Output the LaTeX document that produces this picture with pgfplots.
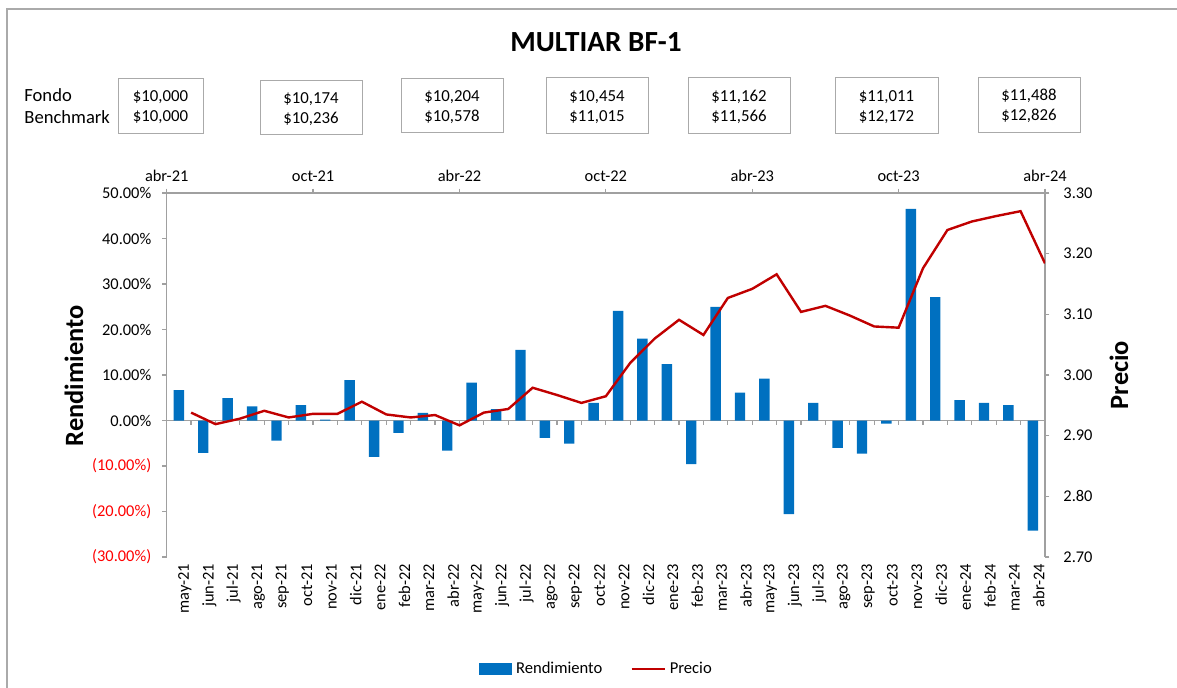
\documentclass[border=0pt]{standalone}
\usepackage{fontspec}
\setmainfont{Carlito}
\usepackage{pgfplots}
\usepackage{pgfplotstable}
\pgfplotsset{compat=1.18}
\definecolor{barblue}{HTML}{0070C0}
\definecolor{linered}{HTML}{C00000}
\definecolor{negred}{HTML}{FF0000}
\definecolor{axgray}{RGB}{160,160,160}
\definecolor{boxgray}{RGB}{170,170,170}
\newcommand{\tickfont}{\fontsize{8.2}{10}\selectfont}
\newcommand{\boxfont}{\fontsize{8.4}{10}\selectfont}

% monthly return (%), one bar per month
\pgfplotstableread{
x r
0 6.7
1 -7.1
2 4.9
3 3.1
4 -4.4
5 3.4
6 0.2
7 8.9
8 -8.0
9 -2.7
10 1.7
11 -6.6
12 8.3
13 2.5
14 15.5
15 -3.8
16 -5.1
17 3.9
18 24.1
19 18.0
20 12.4
21 -9.6
22 25.0
23 6.1
24 9.2
25 -20.6
26 3.9
27 -6.0
28 -7.3
29 -0.7
30 46.5
31 27.1
32 4.5
33 3.9
34 3.4
35 -24.2
}\rendtable

% price, at month ends
\pgfplotstableread{
x p
0.5 2.938
1.5 2.919
2.5 2.928
3.5 2.941
4.5 2.930
5.5 2.936
6.5 2.936
7.5 2.956
8.5 2.935
9.5 2.930
10.5 2.934
11.5 2.917
12.5 2.938
13.5 2.944
14.5 2.979
15.5 2.967
16.5 2.954
17.5 2.965
18.5 3.020
19.5 3.060
20.5 3.091
21.5 3.066
22.5 3.127
23.5 3.142
24.5 3.166
25.5 3.104
26.5 3.114
27.5 3.098
28.5 3.080
29.5 3.078
30.5 3.176
31.5 3.239
32.5 3.253
33.5 3.262
34.5 3.270
35.5 3.184
}\preciotable

\newcommand{\valbox}[6]{%
  \draw[boxgray, line width=0.5pt] (#1,#2) rectangle (#3,#4);
  \node[anchor=base, inner sep=0, font=\boxfont] at ({(#1+#3)/2},{(#2+#4)/2-4.6}) {\$#5};
  \node[anchor=base, inner sep=0, font=\boxfont] at ({(#1+#3)/2},{(#2+#4)/2+15.4}) {\$#6};
}

\pgfplotsset{
  common/.style={
    scale only axis, width=439.15pt, height=182pt,
    at={(83.35pt,-278.5pt)}, anchor=south west,
    xmin=-0.5, xmax=35.5,
    axis line style={axgray, line width=0.6pt},
    tick style={axgray, line width=0.6pt},
    tick align=outside, major tick length=2.2pt,
    ticklabel style={font=\tickfont, text=black},
  }
}

\begin{document}
\begin{tikzpicture}
\begin{scope}[x=0.5pt, y=-0.5pt]
  \path[use as bounding box] (0,0) rectangle (1177,688);
  \draw[boxgray, line width=0.6pt] (7,700) -- (7,9) -- (1190,9);
  \node[anchor=base, inner sep=0, font=\bfseries\fontsize{14.6}{17}\selectfont] at (596,51.7) {MULTIAR BF-1};
  \node[anchor=base west, inner sep=0, font=\fontsize{9.3}{11}\selectfont] at (24,102) {Fondo};
  \node[anchor=base west, inner sep=0, font=\fontsize{9.3}{11}\selectfont] at (24,124) {Benchmark};
  \valbox{118}{79}{203}{134}{10,000}{10,000}
  \valbox{260}{81}{362}{135}{10,174}{10,236}
  \valbox{401}{79}{503}{133}{10,204}{10,578}
  \valbox{546}{78}{648}{134}{10,454}{11,015}
  \valbox{688}{78}{790}{134}{11,162}{11,566}
  \valbox{835}{78}{938}{134}{11,011}{12,172}
  \valbox{978}{78}{1080}{133}{11,488}{12,826}
  \node[rotate=90, font=\bfseries\fontsize{13.2}{15}\selectfont] at (74,376) {Rendimiento};
  \node[rotate=90, font=\bfseries\fontsize{13.2}{15}\selectfont] at (1119,375) {Precio};
\end{scope}

% bars, left axis, zero line
\begin{axis}[common,
  ymin=-30, ymax=50,
  axis x line*=middle, axis y line*=left,
  xtick={-0.5,0.5,...,35.5}, xticklabels={},
  ytick={-30,-20,-10,0,10,20,30,40,50},
  yticklabels={{\color{negred}(30.00\%)},{\color{negred}(20.00\%)},{\color{negred}(10.00\%)},
    0.00\%,10.00\%,20.00\%,30.00\%,40.00\%,50.00\%},
  yticklabel style={xshift=-2pt},
  ybar, bar width=5.2pt,
]
\addplot[fill=barblue, draw=none] table[x=x, y=r] {\rendtable};
\end{axis}

% month labels below the plot
\begin{axis}[common,
  ymin=-30, ymax=50,
  axis x line*=bottom, hide y axis,
  x axis line style={draw=none},
  xtick={0,1,...,35}, major tick length=0pt,
  xticklabels={may-21,jun-21,jul-21,ago-21,sep-21,oct-21,nov-21,dic-21,
    ene-22,feb-22,mar-22,abr-22,may-22,jun-22,jul-22,ago-22,sep-22,oct-22,nov-22,dic-22,
    ene-23,feb-23,mar-23,abr-23,may-23,jun-23,jul-23,ago-23,sep-23,oct-23,nov-23,dic-23,
    ene-24,feb-24,mar-24,abr-24},
  xticklabel style={rotate=90, anchor=east, yshift=-3pt},
]
\end{axis}

% price line, right axis, top date axis
\begin{axis}[common,
  ymin=2.7, ymax=3.3,
  axis x line*=top, axis y line*=right,
  xtick={-0.5,5.5,11.5,17.5,23.5,29.5,35.5},
  xticklabels={abr-21,oct-21,abr-22,oct-22,abr-23,oct-23,abr-24},
  ytick={2.7,2.8,2.9,3.0,3.1,3.2,3.3},
  yticklabel style={xshift=3.5pt, /pgf/number format/.cd, fixed, fixed zerofill, precision=2, assume math mode=true},
  legend columns=2,
  legend style={at={(axis description cs:0.4905,-0.3077)}, anchor=center, draw=none,
    font=\fontsize{8.3}{10}\selectfont, /tikz/every even column/.append style={column sep=12pt}},
]
\addlegendimage{legend image code/.code={\fill[barblue] (0pt,-2.75pt) rectangle (16pt,2.75pt);}}
\addlegendentry{Rendimiento}
\addplot[linered, line width=1.2pt,
  legend image code/.code={\draw[linered, line width=1.2pt] (0pt,0pt) -- (16.5pt,0pt);}]
  table[x=x, y=p] {\preciotable};
\addlegendentry{Precio}
\end{axis}
\end{tikzpicture}
\end{document}
